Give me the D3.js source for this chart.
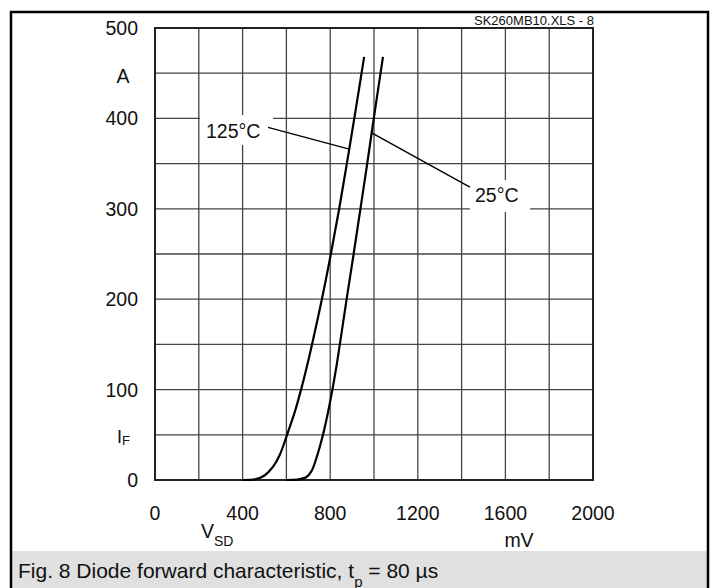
<!DOCTYPE html>
<html>
<head>
<meta charset="utf-8">
<title>Diode forward characteristic</title>
<style>
body { margin: 0; background: #fff; }
svg { display: block; }
text { font-family: "Liberation Sans", Arial, Helvetica, sans-serif; fill: #111; }
.grid line { stroke: #444; stroke-width: 1.3px; }
.curve { fill: none; stroke: #000; stroke-width: 2.2px; }
.leader { stroke: #000; stroke-width: 1.4px; }
</style>
<script src="https://cdn.jsdelivr.net/npm/d3@7/dist/d3.min.js"></script>
</head>
<body>
<svg width="720" height="588"></svg>
<script>
// values: V_SD in mV, I_F in A
var vTicks = [0, 400, 800, 1200, 1600, 2000];
var iTicks = [0, 100, 200, 300, 400, 500];

var v125 = [400, 460, 500, 540, 570, 603, 638, 667, 693, 717, 762, 803, 841, 876, 910, 955];
var i125 = [0,   1,   5,   15,  28,  50,  75,  100, 125, 150, 200, 250, 300, 350, 400, 468];

var v25 = [600, 650, 690, 715, 738, 767, 790, 810, 828, 844, 875, 907, 938, 969, 999, 1041];
var i25 = [0,   0.5, 3,   10,  25,  50,  75,  100, 125, 150, 200, 250, 300, 350, 400, 468];

var svg = d3.select("svg");
// plot box (don't call it "top", window.top is taken)
var pL = 155, pR = 593, pT = 28, pB = 480;

var x = d3.scaleLinear().domain([0, 2000]).range([pL, pR]);
var y = d3.scaleLinear().domain([0, 500]).range([pB, pT]);

// outer frame + caption band
svg.append("rect").attr("x", 12).attr("y", 551).attr("width", 695).attr("height", 40).attr("fill", "#e0e0e0");
svg.append("rect").attr("x", 11).attr("y", 12).attr("width", 697).attr("height", 590)
    .attr("fill", "none").attr("stroke", "#000").attr("stroke-width", 2.5);

// grid: every 200 mV, every 50 A
var g = svg.append("g").attr("class", "grid");
g.selectAll("line.v").data(d3.range(0, 2001, 200)).enter().append("line")
    .attr("class", "v")
    .attr("x1", function(d){ return x(d); }).attr("x2", function(d){ return x(d); })
    .attr("y1", pT).attr("y2", pB);
g.selectAll("line.h").data(d3.range(0, 501, 50)).enter().append("line")
    .attr("class", "h")
    .attr("y1", function(d){ return y(d); }).attr("y2", function(d){ return y(d); })
    .attr("x1", pL).attr("x2", pR);
svg.append("rect").attr("x", pL).attr("y", pT).attr("width", pR - pL).attr("height", pB - pT)
    .attr("fill", "none").attr("stroke", "#222").attr("stroke-width", 2);

// white boxes behind the curve labels (they cut the grid)
svg.append("rect").attr("x", 200).attr("y", 115).attr("width", 73).attr("height", 30).attr("fill", "#fff");
svg.append("rect").attr("x", 470).attr("y", 180).attr("width", 60).attr("height", 32).attr("fill", "#fff");

// curves - centripetal catmull-rom, monotoneX kinked on the steep part
var line = d3.line()
    .x(function(d){ return x(d[0]); })
    .y(function(d){ return y(d[1]); })
    .curve(d3.curveCatmullRom.alpha(0.5));

svg.append("path").attr("class", "curve").attr("d", line(d3.zip(v125, i125)));
svg.append("path").attr("class", "curve").attr("d", line(d3.zip(v25, i25)));

// leader lines, from label to curve
function vAt(vs, is, i) {
    for (var k = 1; k < is.length; k++) {
        if (is[k] >= i) return vs[k-1] + (vs[k] - vs[k-1]) * (i - is[k-1]) / (is[k] - is[k-1]);
    }
    return vs[vs.length - 1];
}
svg.append("line").attr("class", "leader")
    .attr("x1", x(516)).attr("y1", y(390))
    .attr("x2", x(vAt(v125, i125, 366))).attr("y2", y(366));
svg.append("line").attr("class", "leader")
    .attr("x1", x(1438)).attr("y1", y(324))
    .attr("x2", x(vAt(v25, i25, 384))).attr("y2", y(384));

svg.append("text").attr("x", 206).attr("y", 138).attr("font-size", "19.5px").text("125°C");
svg.append("text").attr("x", 475).attr("y", 202).attr("font-size", "19.5px").text("25°C");

// y tick labels
svg.selectAll("text.yt").data(iTicks).enter().append("text")
    .attr("class", "yt")
    .attr("x", 138).attr("y", function(d){ return y(d) + 7; })
    .attr("text-anchor", "end").attr("font-size", "19.5px")
    .text(function(d){ return d; });
svg.append("text").attr("x", 123).attr("y", y(450) + 10).attr("text-anchor", "middle")
    .attr("font-size", "19.5px").text("A");
var iF = svg.append("text").attr("x", 117).attr("y", y(50) + 8).attr("font-size", "18px");
iF.append("tspan").text("I");
iF.append("tspan").attr("font-size", "13px").attr("dy", 2).text("F");

// x tick labels
svg.selectAll("text.xt").data(vTicks).enter().append("text")
    .attr("class", "xt")
    .attr("x", function(d){ return x(d); }).attr("y", 520)
    .attr("text-anchor", "middle").attr("font-size", "19.5px")
    .text(function(d){ return d; });
var vsd = svg.append("text").attr("x", 201).attr("y", 538).attr("font-size", "19.5px");
vsd.append("tspan").text("V");
vsd.append("tspan").attr("font-size", "14px").attr("dy", 8).text("SD");
svg.append("text").attr("x", 519).attr("y", 547).attr("text-anchor", "middle")
    .attr("font-size", "19.5px").text("mV");

svg.append("text").attr("x", 594).attr("y", 25).attr("text-anchor", "end")
    .attr("font-size", "13px").text("SK260MB10.XLS - 8");

// caption
var cap = svg.append("text").attr("x", 18).attr("y", 578).attr("font-size", "21px");
cap.append("tspan").text("Fig. 8 Diode forward characteristic, t");
cap.append("tspan").attr("font-size", "15px").attr("dy", 9).text("p");
cap.append("tspan").attr("dy", -9).text(" = 80 µs");
</script>
</body>
</html>
